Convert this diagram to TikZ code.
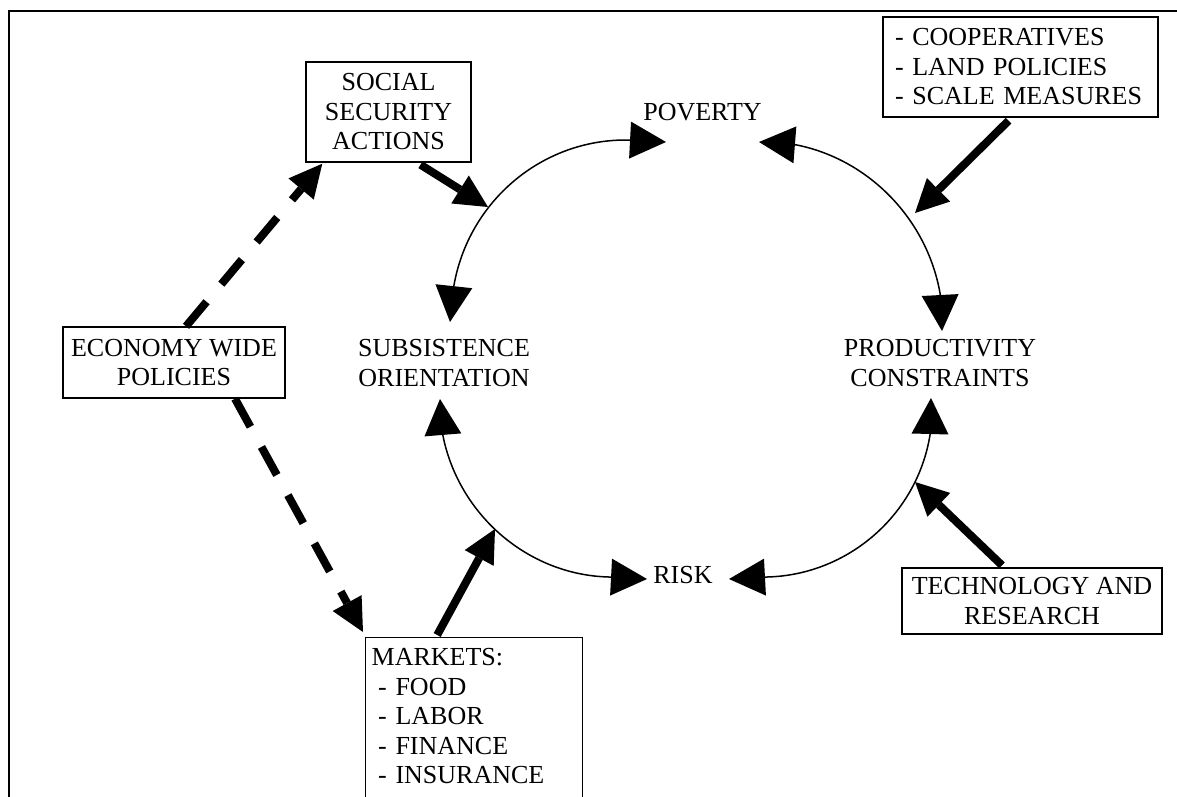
\documentclass[tikz,border=0pt]{standalone}
\usepackage{fontspec}
\setmainfont{Liberation Serif}
\usetikzlibrary{arrows.meta}
\tikzset{
  txt/.style={font=\fontsize{26}{29.5}\selectfont},
  box/.style={txt, draw, line width=1.4pt, inner sep=0pt, align=center},
  lbl/.style={txt, inner sep=0pt, align=center},
  cyc/.style={line width=1.5pt,
    {Triangle[length=36pt,width=37pt,line width=0pt]}-{Triangle[length=36pt,width=37pt,line width=0pt]}},
  push/.style={line width=8pt, -{Triangle[length=33pt,width=33pt,line width=0pt]}},
  pushd/.style={push, dash pattern=on 32pt off 23pt},
  frameline/.style={line width=1.6pt}
}
\begin{document}
\begin{tikzpicture}[x=1pt,y=-1pt]
\useasboundingbox (0,0) rectangle (1177,796);
% frame
\draw[frameline] (1180,11) -- (9,11) -- (9,800);

% boxes
\node[box, minimum width=165pt, minimum height=100pt] (social) at (388.5,112) {SOCIAL\\SECURITY\\ACTIONS};
\node[box, text width=251pt, inner xsep=12pt, align=left, minimum height=100pt] (coop) at (1020.5,67)
  {- COOPERATIVES\\- LAND POLICIES\\- SCALE MEASURES};
\node[box, minimum width=222pt, minimum height=71pt] (econ) at (174,362.5) {ECONOMY WIDE\\POLICIES};
\node[box, minimum width=260pt, minimum height=66pt] (tech) at (1032,601) {TECHNOLOGY AND\\RESEARCH};
\node[box, anchor=north west, text width=205pt, inner xsep=6pt, inner ysep=11pt, align=left] (markets) at (365,637)
  {MARKETS:\\\hspace*{6.5pt}- FOOD\\\hspace*{6.5pt}- LABOR\\\hspace*{6.5pt}- FINANCE\\\hspace*{6.5pt}- INSURANCE\rule[-30pt]{0pt}{30pt}};

% free labels
\node[lbl, anchor=base] (poverty) at (702.5,120) {POVERTY};
\node[lbl] (subs) at (444,363) {SUBSISTENCE\\ORIENTATION};
\node[lbl] (prod) at (940,363) {PRODUCTIVITY\\CONSTRAINTS};
\node[lbl, anchor=base] (risk) at (683,583) {RISK};

% arc end points
\coordinate (povL) at (666,142);
\coordinate (tl1) at (628,140);
\coordinate (tl2) at (454,285);
\coordinate (subsT) at (450,322);
\coordinate (povR) at (759,142);
\coordinate (tr1) at (797,145);
\coordinate (tr2) at (940,293);
\coordinate (prodT) at (942,331);
\coordinate (prodB) at (931,398);
\coordinate (br1) at (930,435);
\coordinate (br2) at (767,577);
\coordinate (riskR) at (729,579);
\coordinate (subsB) at (440,399);
\coordinate (bl1) at (443,436);
\coordinate (bl2) at (609,577);
\coordinate (riskL) at (647,579);

\draw[cyc] (povL) -- (tl1) .. controls (542,139) and (469,201) .. (tl2) -- (subsT);
\draw[cyc] (povR) -- (tr1) .. controls (870,160) and (927,220) .. (tr2) -- (prodT);
\draw[cyc] (prodB) -- (br1) .. controls (917,515) and (848,575) .. (br2) -- (riskR);
\draw[cyc] (subsB) -- (bl1) .. controls (459,515) and (528,575) .. (bl2) -- (riskL);

% thick arrows onto the cycle
\coordinate (hitTL) at (488,207);
\coordinate (hitTR) at (915,213);
\coordinate (hitBR) at (915,482);
\coordinate (hitBL) at (495,529);
\draw[push] ([xshift=32pt,yshift=-2pt]social.south) -- (hitTL);
\draw[push] ([xshift=-12pt,yshift=-3pt]coop.south) -- (hitTR);
\draw[push] ([xshift=-30pt,yshift=2pt]tech.north) -- (hitBR);
\draw[push] ([xshift=-37pt,yshift=2pt]markets.north) -- (hitBL);

% dashed arrows
\draw[pushd] ([xshift=12pt]econ.north) -- ([xshift=17pt,yshift=-1pt]social.south west);
\draw[pushd] ([xshift=61pt]econ.south) -- ([xshift=-2pt,yshift=5pt]markets.north west);
\end{tikzpicture}
\end{document}
